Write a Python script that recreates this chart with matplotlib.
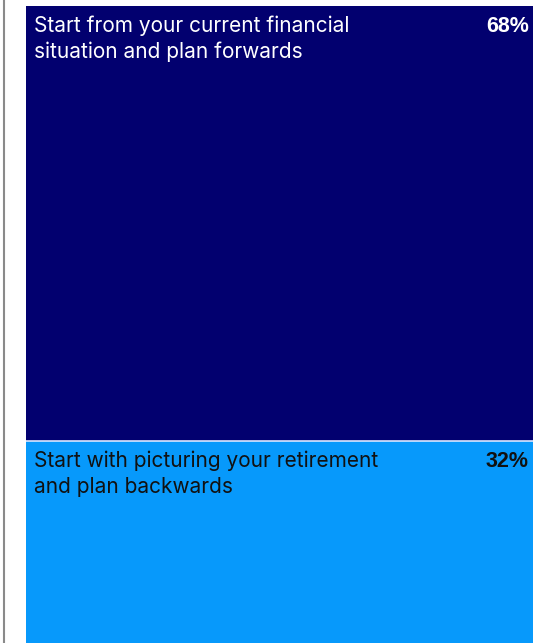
import matplotlib.pyplot as plt
from matplotlib.lines import Line2D

# data
labels = ["Start from your current financial\nsituation and plan forwards",
          "Start with picturing your retirement\nand plan backwards"]
shares = [68, 32]
colors = ["#02006F", "#0799FB"]
text_colors = ["white", "#111111"]

W, H, DPI = 533, 643, 100
fig = plt.figure(figsize=(W / DPI, H / DPI), dpi=DPI)

# axes in pixel terms: left 26, top 6, bottom slightly below the canvas
left, top, bottom = 26, 6, 646
ax = fig.add_axes([left / W, 1 - bottom / H, 1 - left / W, (bottom - top) / H])

base = 0
for lab, s, c, tc in zip(labels, shares, colors, text_colors):
    ax.bar(0, s, bottom=base, width=1, color=c, align='edge', linewidth=0)
    ax.annotate(lab, xy=(0, base), xytext=(6, -6.5), textcoords='offset points',
                ha='left', va='top', color=tc, fontsize=15,
                family=['Inter', 'DejaVu Sans'], linespacing=1.38)
    ax.annotate(f"{s}%", xy=(1, base), xytext=(-3, -7), textcoords='offset points',
                ha='right', va='top', color=tc, fontsize=15.5, fontweight='bold',
                family=['Liberation Sans', 'DejaVu Sans'])
    base += s

ax.axhline(shares[0], color="#dbe6ff", linewidth=1.2)
ax.set_xlim(0, 1)
ax.set_ylim(100, 0)
ax.axis('off')

# thin grey rule on the far left
fig.add_artist(Line2D([3.5 / W, 3.5 / W], [0, 1], color="#8a8a8a", linewidth=1.5,
                      transform=fig.transFigure))

fig.savefig("out.png", dpi=DPI)
